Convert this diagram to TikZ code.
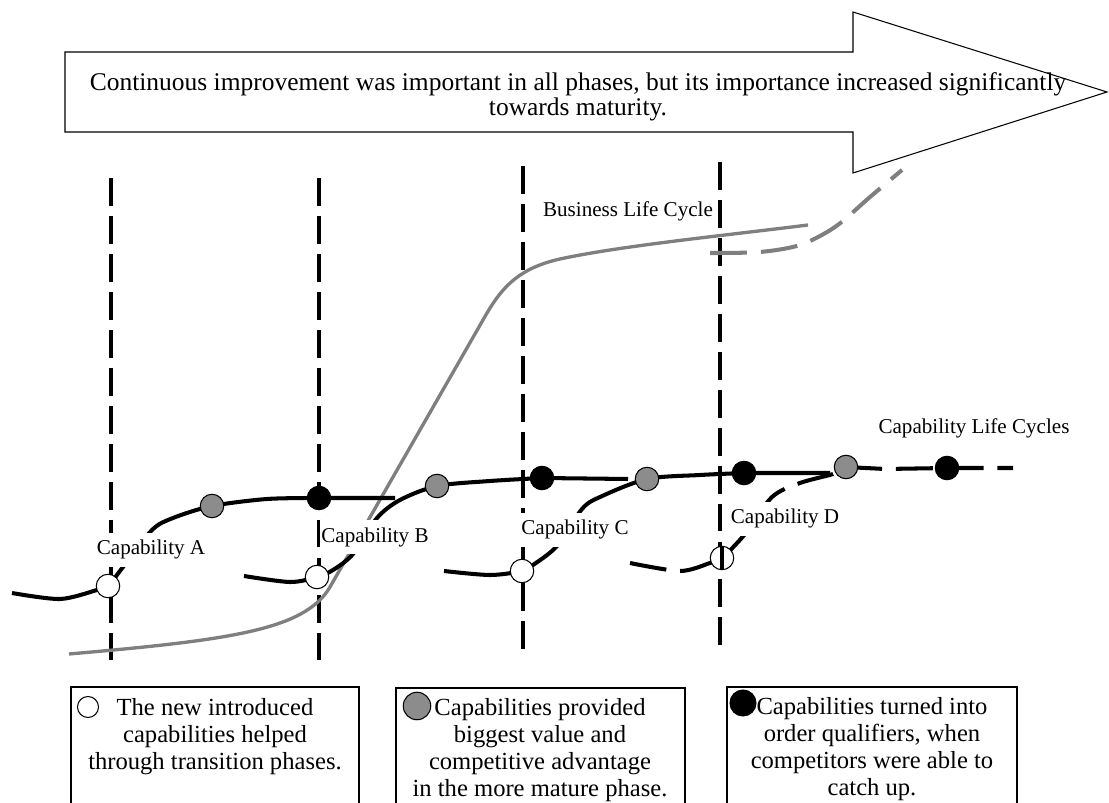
\documentclass[tikz,border=0pt]{standalone}
\usepackage{fontspec}
\setmainfont{Liberation Serif}
\usetikzlibrary{positioning}
\definecolor{cyclegray}{HTML}{7F7F7F}
\definecolor{dotgray}{HTML}{8C8C8C}
\newcommand{\phasedot}[3]{%
  \node[#1] (#2) at (#3) {};}
\newcommand{\legendbox}[3]{%
  \draw[line width=0.6pt] (#1,803) -- (#1,#3) -- (#2,#3) -- (#2,803);}

\begin{document}
\begin{tikzpicture}[x=0.02cm, y=-0.02cm,
    font=\fontsize{12pt}{14pt}\selectfont,
    phaseline/.style={line width=1.9pt, dash pattern=on 15.9pt off 5.7pt},
    capline/.style={line width=2.3pt},
    capdashed/.style={capline, dash pattern=on 21pt off 7.9pt},
    business/.style={cyclegray, line width=1.9pt},
    capdot/.style={circle, draw, line width=0.6pt, minimum size=0.47cm, inner sep=0pt},
    newcap/.style={capdot, fill=white},
    valuecap/.style={capdot, fill=dotgray},
    qualcap/.style={capdot, fill=black},
    caplabel/.style={fill=white, inner xsep=1pt, inner ysep=4pt, anchor=base},
    legtext/.style={align=center, anchor=base, font=\fontsize{14pt}{15.2pt}\selectfont}]
  \useasboundingbox (0,0) rectangle (1109,803);

  % phase borders
  \foreach \x/\a/\b in {111/178/660, 319/178/660, 523/166/652, 720/162/647}
    \draw[phaseline] (\x,\a) -- (\x,\b);

  % where the dots sit
  \coordinate (wA) at (108,586); \coordinate (gA) at (212,506); \coordinate (bA) at (319,498);
  \coordinate (wB) at (317,577); \coordinate (gB) at (437,486); \coordinate (bB) at (542,478);
  \coordinate (wC) at (522,571); \coordinate (gC) at (647,479); \coordinate (bC) at (744,473);
  \coordinate (wD) at (722,558); \coordinate (gD) at (846,467); \coordinate (bD) at (947,468);

  % business life cycle
  \draw[business] (69,654) .. controls (230,640) and (305,630) .. (330,587)
    -- (487,313) .. controls (503,286) and (520,268) .. (560,259)
    .. controls (620,246) and (720,236) .. (808,225);
  \draw[business, line width=2.3pt, dash pattern=on 21pt off 8pt] plot[smooth]
    coordinates {(710,253) (760,252) (800,245) (835,227) (870,197) (902,170)};

  % capability life cycles
  \draw[capline] plot[smooth] coordinates {(12,593) (60,599) (97,590) (wA) (123,567)
    (152,530) (173,518) (gA) (267,499) (bA)} -- (395,498);
  \draw[capline] plot[smooth] coordinates {(244,576) (290,582) (wB) (333,570) (353,554)
    (377,518) (400,500) (gB) (490,481) (bB)} -- (628,479);
  \draw[capline] plot[smooth] coordinates {(444,571) (490,575) (wC) (533,565) (557,546)
    (582,509) (600,497) (gC) (700,475) (bC)} -- (830,473);
  \draw[capdashed] plot[smooth] coordinates {(630,563) (680,571) (710,563) (wD) (745,534)
    (772,497) (800,483) (833,474) (gD)} -- (885,469) -- (bD) -- (1013,468);

  % labels
  \node[caplabel] (labA) at (151,555) {Capability A};
  \node[caplabel] (labB) at (375,542) {Capability B};
  \node[caplabel] (labC) at (575,535) {Capability C};
  \node[caplabel] (labD) at (785,524) {Capability D};
  \node[anchor=base] (labbusiness) at (628,217) {Business Life Cycle};
  \node[anchor=base] (labcycles) at (974,434) {Capability Life Cycles};

  % dots
  \phasedot{newcap}{wAdot}{wA}   \phasedot{valuecap}{gAdot}{gA}   \phasedot{qualcap}{bAdot}{bA}
  \phasedot{newcap}{wBdot}{wB}   \phasedot{valuecap}{gBdot}{gB}   \phasedot{qualcap}{bBdot}{bB}
  \phasedot{newcap}{wCdot}{wC}   \phasedot{valuecap}{gCdot}{gC}   \phasedot{qualcap}{bCdot}{bC}
  \phasedot{newcap}{wDdot}{wD}   \phasedot{valuecap}{gDdot}{gD}   \phasedot{qualcap}{bDdot}{bD}
  \draw[line width=1.9pt] (wDdot.north) -- (wDdot.south);

  % improvement arrow
  \draw[line width=0.6pt] (65,52) -- (853,52) -- (853,12) -- (1107,92) -- (853,173)
    -- (853,132) -- (65,132) -- cycle;
  \node[align=center, anchor=base, font=\fontsize{14.5pt}{14.7pt}\selectfont] (trend)
    at (578,116) {Continuous improvement was important in all phases, but its importance increased significantly\\towards maturity.};

  % legend
  \legendbox{71}{359}{687}
  \legendbox{396}{685}{688}
  \legendbox{727}{1017}{687}
  \node[newcap, minimum size=0.42cm] (keynew) at (88,707) {};
  \node[valuecap, minimum size=0.55cm] (keyvalue) at (417,706) {};
  \node[qualcap, minimum size=0.52cm] (keyqual) at (743,703) {};
  \node[legtext] (textnew) at (215,769) {The new introduced\\capabilities helped\\through transition phases.};
  \node[legtext] (textvalue) at (540,796) {Capabilities provided\\biggest value and\\competitive advantage\\in the more mature phase.};
  \node[legtext] (textqual) at (872,795) {Capabilities turned into\\order qualifiers, when\\competitors were able to\\catch up.};
\end{tikzpicture}
\end{document}
